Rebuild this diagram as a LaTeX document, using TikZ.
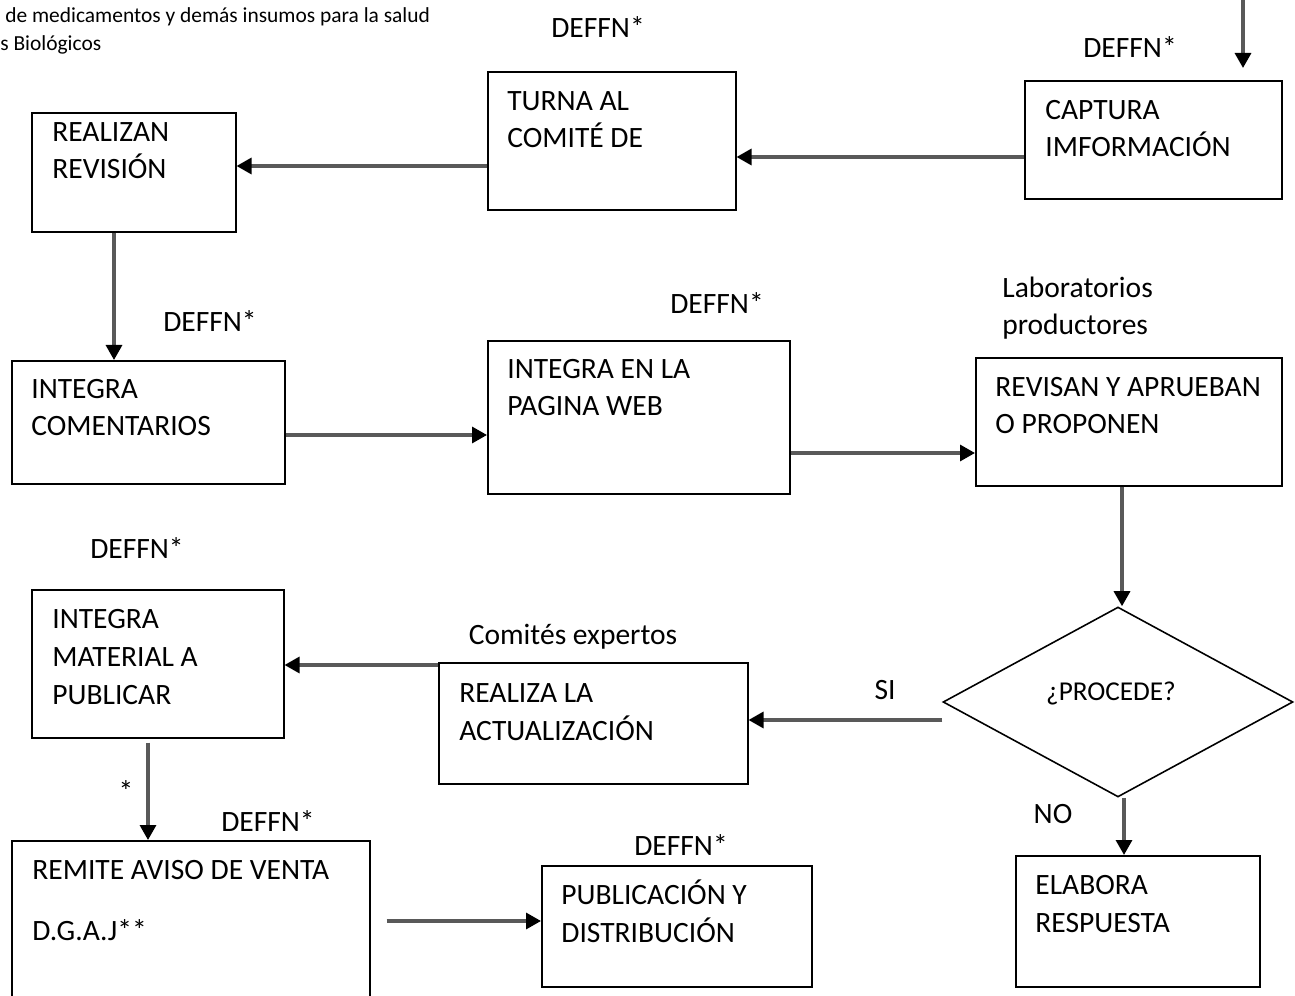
\documentclass[tikz,border=0pt]{standalone}
\usepackage{fontspec}
\setmainfont{Carlito}
\usetikzlibrary{arrows.meta,shapes.geometric}

\begin{document}
\begin{tikzpicture}[
    x=0.02cm, y=-0.02cm,
    >={Triangle[length=0.3cm,width=0.32cm,color=black]},
    caja/.style={draw=black,line width=0.9pt,rectangle,inner sep=0pt,anchor=north west},
    decision/.style={diamond,draw=black,line width=0.9pt,inner sep=0pt,minimum width=7cm,minimum height=3.8cm},
    texto caja/.style={anchor=base west,align=left,inner sep=0pt,font=\fontsize{16.8}{21.6}\selectfont},
    etiqueta/.style={inner sep=0pt,font=\fontsize{16.8}{21.6}\selectfont},
    nota/.style={anchor=base west,inner sep=0pt,font=\fontsize{12.2}{15}\selectfont},
    flujo/.style={->,black!65,line width=1.8pt}
]
\useasboundingbox (0,0) rectangle (1295,996);

% Encabezado (recortado)
\node[nota] (enc1) at (5,23) {de medicamentos y demás insumos para la salud};
\node[nota] (enc2) at (0,51) {s Biológicos};

% Cajas del proceso
\node[caja,minimum width=5.14cm,minimum height=2.36cm] (captura) at (1024,80) {};
\node[caja,minimum width=4.96cm,minimum height=2.76cm] (turna) at (487,71) {};
\node[caja,minimum width=4.08cm,minimum height=2.38cm] (realizan) at (31,112) {};
\node[caja,minimum width=5.46cm,minimum height=2.46cm] (comentarios) at (11,360) {};
\node[caja,minimum width=6.04cm,minimum height=3.06cm] (pagina) at (487,340) {};
\node[caja,minimum width=6.12cm,minimum height=2.56cm] (revisan) at (975,357) {};
\node[decision] (procede) at (1118,702) {};
\node[caja,minimum width=5.04cm,minimum height=2.96cm] (material) at (31,589) {};
\node[caja,minimum width=6.18cm,minimum height=2.42cm] (actualiza) at (438,662) {};
\node[caja,minimum width=7.16cm,minimum height=3.4cm] (remite) at (11,840) {};
\node[caja,minimum width=5.4cm,minimum height=2.42cm] (publica) at (541,865) {};
\node[caja,minimum width=4.88cm,minimum height=2.62cm] (respuesta) at (1015,855) {};

% Textos de las cajas (base = ultima linea)
\node[texto caja] (capturaT) at (1045,157) {CAPTURA\\IMFORMACIÓN};
\node[texto caja] (turnaT) at (507,148) {TURNA AL\\COMITÉ DE};
\node[texto caja] (realizanT) at (52,179) {REALIZAN\\REVISIÓN};
\node[texto caja] (comentariosT) at (31,436) {INTEGRA\\COMENTARIOS};
\node[texto caja] (paginaT) at (507,416) {INTEGRA EN LA\\PAGINA WEB};
\node[texto caja] (revisanT) at (995,434) {REVISAN Y APRUEBAN\\O PROPONEN};
\node[etiqueta,font=\fontsize{15.5}{18}\selectfont] (procedeT) at (1111,693) {¿PROCEDE?};
\node[texto caja] (materialT) at (52,704) {INTEGRA\\MATERIAL A\\PUBLICAR};
\node[texto caja] (actualizaT) at (459,740) {REALIZA LA\\ACTUALIZACIÓN};
\node[texto caja] (remiteT) at (32,940) {REMITE AVISO DE VENTA\\[0.46cm]D.G.A.J**};
\node[texto caja] (publicaT) at (561,942) {PUBLICACIÓN Y\\DISTRIBUCIÓN};
\node[texto caja] (respuestaT) at (1035,932) {ELABORA\\RESPUESTA};

% Responsables
\node[etiqueta] (r1) at (598,27) {DEFFN*};
\node[etiqueta] (r2) at (1130,47) {DEFFN*};
\node[etiqueta] (r3) at (210,321) {DEFFN*};
\node[etiqueta] (r4) at (717,303) {DEFFN*};
\node[texto caja] (r5) at (1002,335) {Laboratorios\\productores};
\node[etiqueta] (r6) at (137,548) {DEFFN*};
\node[etiqueta] (r7) at (573,637) {Comités expertos};
\node[etiqueta] (r8) at (268,821) {DEFFN*};
\node[etiqueta] (r9) at (681,845) {DEFFN*};
\node[etiqueta] (si) at (885,690) {SI};
\node[etiqueta] (no) at (1053,814) {NO};
\node[etiqueta] (ast) at (126,791) {*};

% Flechas
\coordinate (entrada) at (1243,0);
\draw[flujo,shorten >=0.24cm] (entrada) -- (entrada |- captura.north);
\draw[flujo] (captura.west |- 0,157) -- (turna.east |- 0,157);
\draw[flujo] (turna.west |- 0,166) -- (realizan.east |- 0,166);
\draw[flujo] (realizan.south -| 114,0) -- (comentarios.north -| 114,0);
\draw[flujo] (comentarios.east |- 0,435) -- (pagina.west |- 0,435);
\draw[flujo] (pagina.east |- 0,453) -- (revisan.west |- 0,453);
\draw[flujo] (revisan.south -| 1122,0) -- (procede.north -| 1122,0);
\draw[flujo] (procede.west |- 0,720) -- (actualiza.east |- 0,720);
\draw[flujo] (actualiza.west |- 0,665) -- (material.east |- 0,665);
\draw[flujo,shorten <=0.08cm] (material.south -| 148,0) -- (remite.north -| 148,0);
\draw[flujo,shorten <=0.32cm] (remite.east |- 0,921) -- (publica.west |- 0,921);
\draw[flujo] (procede.south -| 1124,0) -- (respuesta.north -| 1124,0);

\end{tikzpicture}
\end{document}
